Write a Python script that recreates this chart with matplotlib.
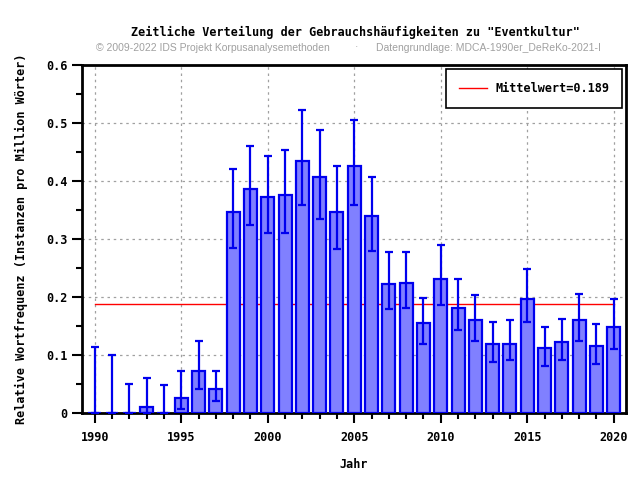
import matplotlib
matplotlib.use("Agg")
import matplotlib.pyplot as plt
import numpy as np
from matplotlib.ticker import MultipleLocator, FuncFormatter

years = list(range(1990, 2021))
values = [0.0, 0.0, 0.0, 0.010, 0.0, 0.026, 0.072, 0.041, 0.347, 0.387,
          0.372, 0.376, 0.434, 0.406, 0.347, 0.426, 0.339, 0.223, 0.225, 0.155,
          0.232, 0.182, 0.160, 0.120, 0.120, 0.197, 0.112, 0.123, 0.160, 0.115,
          0.148]
err_low = [0.0, 0.0, 0.0, 0.0, 0.0, 0.008, 0.041, 0.022, 0.285, 0.325,
           0.310, 0.310, 0.359, 0.334, 0.283, 0.359, 0.279, 0.180, 0.182, 0.120,
           0.186, 0.144, 0.125, 0.089, 0.091, 0.158, 0.082, 0.092, 0.125, 0.084,
           0.110]
err_high = [0.114, 0.100, 0.050, 0.061, 0.048, 0.073, 0.125, 0.073, 0.421, 0.460,
            0.443, 0.454, 0.523, 0.488, 0.426, 0.505, 0.407, 0.277, 0.277, 0.199,
            0.289, 0.232, 0.204, 0.158, 0.161, 0.249, 0.149, 0.163, 0.206, 0.154,
            0.196]
mean_value = 0.189

title = 'Zeitliche Verteilung der Gebrauchshäufigkeiten zu "Eventkultur"'
subtitle_left = "© 2009-2022 IDS Projekt Korpusanalysemethoden"
subtitle_right = "Datengrundlage: MDCA-1990er_DeReKo-2021-I"

mono = "DejaVu Sans Mono"

fig = plt.figure(figsize=(6.4, 4.8), dpi=100)
ax = fig.add_axes([0.1277, 0.139, 0.851, 0.726])

v = np.array(values)
lo = np.array(err_low)
hi = np.array(err_high)
yerr = np.vstack([v - lo, hi - v])

ax.bar(years, values, width=0.75, color="#8080ff", edgecolor="#0000ee",
       linewidth=1.6, zorder=3)
ax.errorbar(years, values, yerr=yerr, fmt="none", ecolor="#0000ee",
            elinewidth=1.6, capsize=3, capthick=1.6, zorder=4)
ax.plot([years[0], years[-1]], [mean_value, mean_value], color="red",
        linewidth=1.0, zorder=2, label=f"Mittelwert={mean_value}")

ax.set_xlim(1989.25, 2020.73)
ax.set_ylim(0, 0.6)
ax.xaxis.set_major_locator(MultipleLocator(5))
ax.xaxis.set_minor_locator(MultipleLocator(1))
ax.yaxis.set_major_locator(MultipleLocator(0.1))
ax.yaxis.set_minor_locator(MultipleLocator(0.05))
ax.yaxis.set_major_formatter(FuncFormatter(lambda y, p: f"{y:.1f}" if y > 0 else "0"))

ax.tick_params(which="major", direction="out", length=7, width=1.5)
ax.tick_params(which="minor", direction="out", length=4, width=1.5)
ax.tick_params(axis="x", which="major", pad=6)
for lab in ax.get_xticklabels() + ax.get_yticklabels():
    lab.set_fontfamily(mono)
    lab.set_fontweight("bold")
    lab.set_fontsize(8.5)
for s in ax.spines.values():
    s.set_linewidth(2)

ax.grid(True, which="major", color="#a0a0a0", linestyle=(0, (2, 3)),
        linewidth=0.9, zorder=0)
ax.set_axisbelow(True)

ax.set_xlabel("Jahr", fontfamily=mono, fontweight="bold", fontsize=8.5,
              labelpad=10)
ax.set_ylabel("Relative Wortfrequenz (Instanzen pro Million Wörter)",
              fontfamily=mono, fontweight="bold", fontsize=8.5, labelpad=13)

leg = ax.legend(loc="upper right", prop={"family": mono, "weight": "bold",
                                         "size": 8.5},
                fancybox=False, framealpha=1, edgecolor="black",
                borderpad=1.1, handlelength=2.4, handletextpad=0.7,
                borderaxespad=0.35)
leg.get_frame().set_linewidth(1.2)

fig.text(0.555, 0.933, title, ha="center", va="center", fontfamily=mono,
         fontweight="bold", fontsize=8.5)
fig.text(0.15, 0.901, subtitle_left, ha="left", va="center",
         fontfamily="Liberation Sans", fontsize=7.5, color="#a0a0a0")
fig.text(0.557, 0.901, "·", ha="center", va="center",
         fontfamily="Liberation Sans", fontsize=7.5, color="#a0a0a0")
fig.text(0.587, 0.901, subtitle_right, ha="left", va="center",
         fontfamily="Liberation Sans", fontsize=7.5, color="#a0a0a0")

fig.savefig("out.png", dpi=100)
